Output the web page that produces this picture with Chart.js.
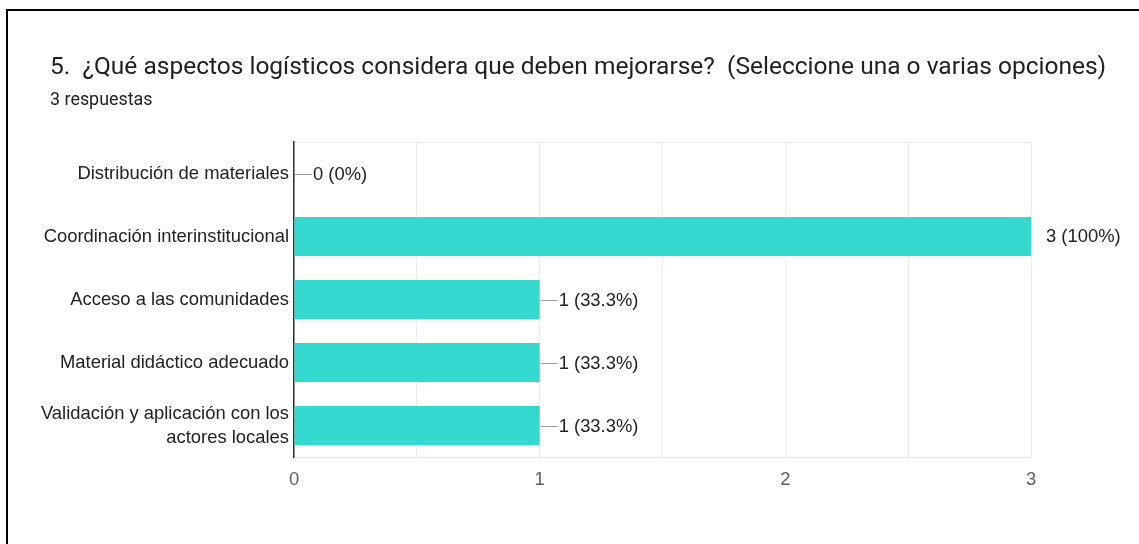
<!DOCTYPE html>
<html>
<head>
<meta charset="utf-8">
<script src="https://cdn.jsdelivr.net/npm/chart.js@4/dist/chart.umd.min.js"></script>
<style>
  html, body { margin: 0; padding: 0; background: #fff; }
  #wrap { position: relative; width: 1139px; height: 544px; overflow: hidden; }
  #frame { position: absolute; left: 6px; top: 9px; width: 1200px; height: 600px;
           border-top: 2px solid #000; border-left: 2px solid #000; pointer-events: none; }
  canvas { position: absolute; left: 0; top: 0; }
</style>
</head>
<body>
<div id="wrap">
  <canvas id="c" width="1139" height="544"></canvas>
  <div id="frame"></div>
</div>
<script>
const titleText = "5.  ¿Qué aspectos logísticos considera que deben mejorarse?  (Seleccione una o varias opciones)";
const subtitleText = "3 respuestas";
const categories = [
  "Distribución de materiales",
  "Coordinación interinstitucional",
  "Acceso a las comunidades",
  "Material didáctico adecuado",
  ["Validación y aplicación con los", "actores locales"]
];
const counts = [0, 3, 1, 1, 1];
const percentLabels = ["0%", "100%", "33.3%", "33.3%", "33.3%"];
const xTickValues = [0, 1, 2, 3];

const labelFont = "'Liberation Sans', Arial, sans-serif";

const headerPlugin = {
  id: 'header',
  beforeDraw(chart) {
    const ctx = chart.ctx;
    ctx.save();
    ctx.fillStyle = '#202124';
    ctx.textAlign = 'left';
    ctx.textBaseline = 'alphabetic';
    ctx.font = "24.5px Roboto, 'Liberation Sans', sans-serif";
    ctx.fillText(titleText, 50, 74);
    ctx.font = "17.9px Roboto, 'Liberation Sans', sans-serif";
    ctx.fillText(subtitleText, 50, 105);
    // top border of plot
    const a = chart.chartArea;
    ctx.strokeStyle = '#ebebeb';
    ctx.lineWidth = 1;
    ctx.beginPath();
    ctx.moveTo(a.left, a.top + 0.5);
    ctx.lineTo(a.right, a.top + 0.5);
    ctx.stroke();
    ctx.restore();
  }
};

const valueLabelPlugin = {
  id: 'valueLabels',
  afterDatasetsDraw(chart) {
    const ctx = chart.ctx;
    const meta = chart.getDatasetMeta(0);
    const maxVal = Math.max(...counts);
    ctx.save();
    ctx.font = "18.4px " + labelFont;
    ctx.textBaseline = 'middle';
    ctx.textAlign = 'left';
    meta.data.forEach((bar, i) => {
      const x = bar.x;
      const y = bar.y;
      const txt = counts[i] + " (" + percentLabels[i] + ")";
      if (counts[i] === maxVal) {
        ctx.fillStyle = '#222';
        ctx.fillText(txt, x + 15, y);
      } else {
        ctx.strokeStyle = '#999';
        ctx.lineWidth = 1;
        ctx.beginPath();
        ctx.moveTo(x + 1, Math.round(y) + 0.5);
        ctx.lineTo(x + 18, Math.round(y) + 0.5);
        ctx.stroke();
        ctx.fillStyle = '#222';
        ctx.fillText(txt, x + 19, y + 1);
      }
    });
    ctx.restore();
  }
};

new Chart(document.getElementById('c'), {
  type: 'bar',
  data: {
    labels: categories,
    datasets: [{
      data: counts,
      backgroundColor: '#35d9cf',
      borderWidth: 0,
      barPercentage: 0.62,
      categoryPercentage: 1.0
    }]
  },
  plugins: [headerPlugin, valueLabelPlugin],
  options: {
    indexAxis: 'y',
    responsive: false,
    animation: false,
    layout: { padding: { left: 0, top: 142, right: 108, bottom: 47 } },
    plugins: {
      legend: { display: false },
      tooltip: { enabled: false },
      title: { display: false }
    },
    scales: {
      x: {
        min: 0,
        max: 3,
        afterFit(s) { s.height = 40; },
        ticks: {
          stepSize: 0.5,
          padding: 12,
          maxRotation: 0,
          autoSkip: false,
          color: '#5f5f5f',
          font: { family: labelFont, size: 18.4 },
          callback(v) { return xTickValues.includes(v) ? String(v) : ''; }
        },
        grid: { color: '#ebebeb', drawTicks: false, lineWidth: 1 },
        border: { color: '#e3e3e3', width: 1 }
      },
      y: {
        afterFit(s) { s.width = 294; },
        ticks: {
          padding: 5,
          color: '#222',
          font: { family: labelFont, size: 18.4, lineHeight: 1.3 }
        },
        grid: { display: false, drawTicks: false },
        border: { color: '#333', width: 1.5 }
      }
    }
  }
});
</script>
</body>
</html>
